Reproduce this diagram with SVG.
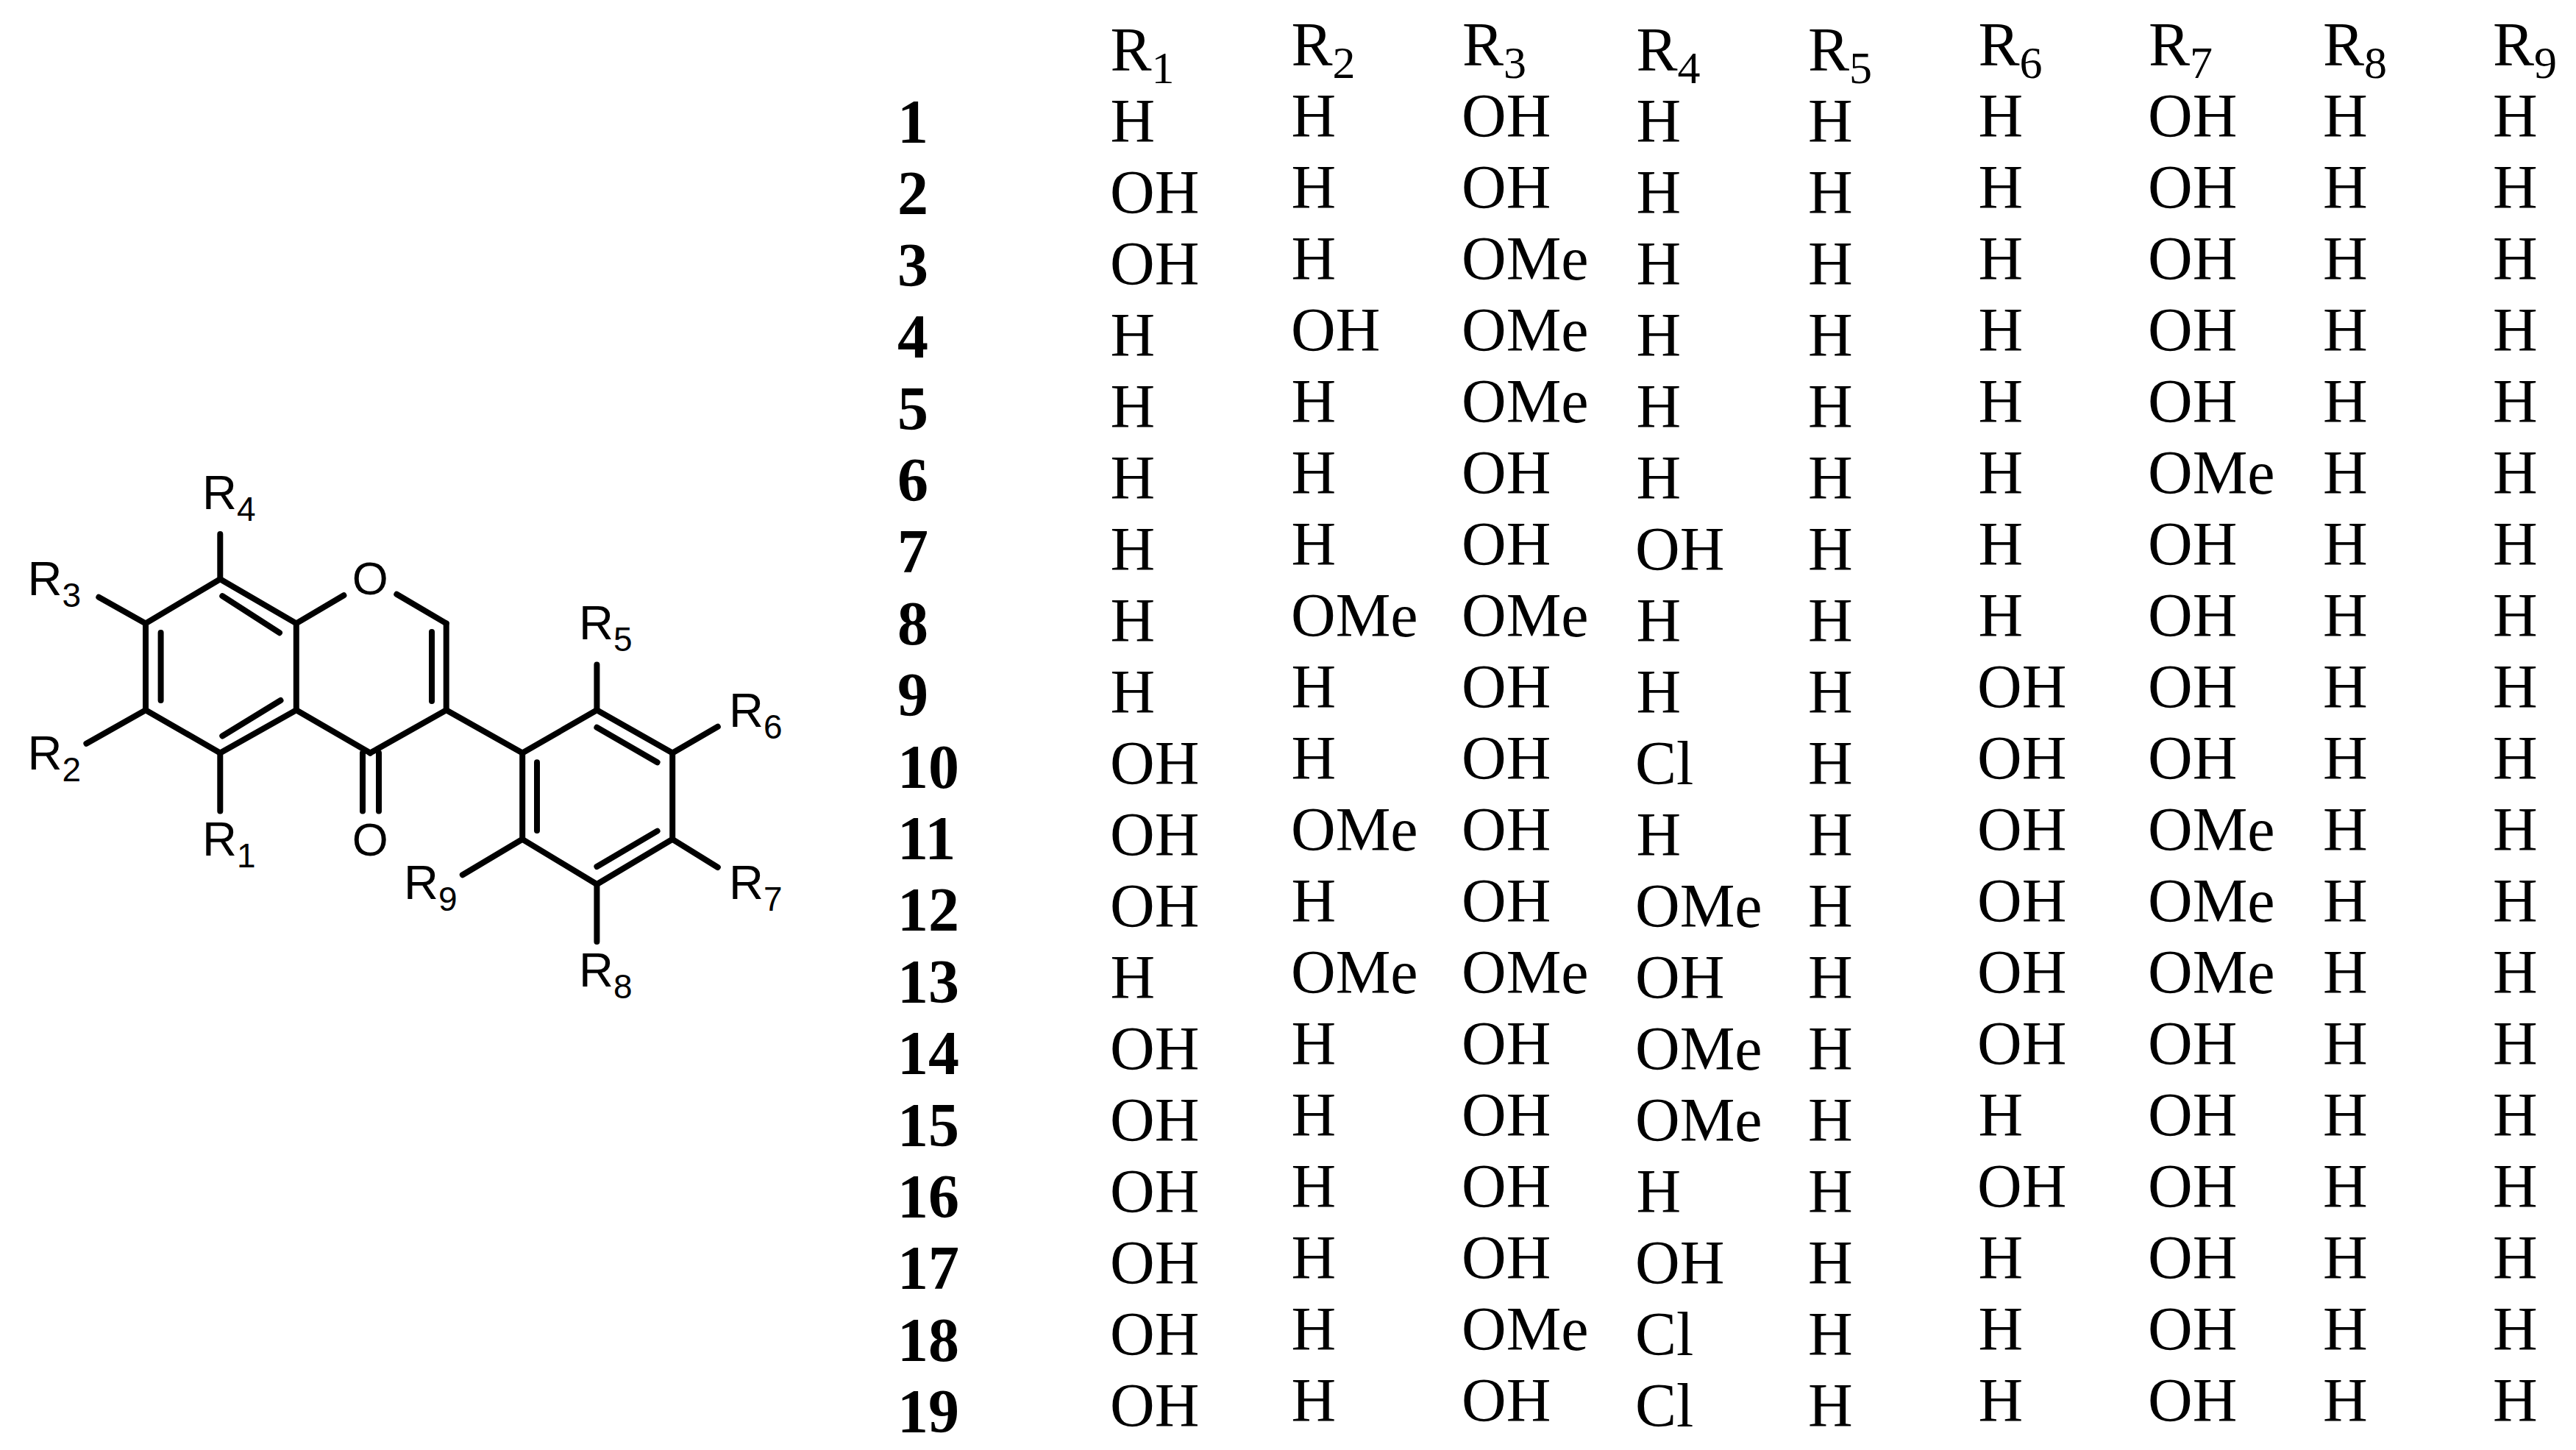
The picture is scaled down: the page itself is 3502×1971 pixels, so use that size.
<svg xmlns="http://www.w3.org/2000/svg" width="3502" height="1971" viewBox="0 0 3502 1971">
<style>
text{fill:#000}
.t{font-family:"Liberation Serif","Times New Roman",serif;font-size:84px}
.n{font-family:"Liberation Serif","Times New Roman",serif;font-size:84px;font-weight:bold}
.s{font-size:62px}
.a{font-family:"Liberation Sans",Arial,sans-serif;font-size:65px}
.o{font-size:63px;text-anchor:middle}
.as{font-size:46px}
#connectors line{stroke:#000;stroke-width:8;stroke-linecap:round}
</style>
<rect width="3502" height="1971" fill="#fff"/>
<g id="connectors">
<line x1="299.3" y1="787.2" x2="198" y2="847.4"/><line x1="299.3" y1="787.2" x2="402.8" y2="847.4"/>
<line x1="198" y1="847.4" x2="198" y2="965.3"/><line x1="198" y1="965.3" x2="299.3" y2="1023.5"/>
<line x1="299.3" y1="1023.5" x2="402.8" y2="965.3"/><line x1="402.8" y1="965.3" x2="402.8" y2="847.4"/>
<line x1="218.6" y1="860" x2="218.6" y2="952"/><line x1="302.3" y1="810.2" x2="380" y2="860.2"/><line x1="302.3" y1="1000.5" x2="381.5" y2="952"/>
<line x1="402.8" y1="847.4" x2="467.4" y2="809.2"/><line x1="539.3" y1="807.7" x2="606.7" y2="847.4"/>
<line x1="606.7" y1="847.4" x2="606.7" y2="965.3"/><line x1="587" y1="859" x2="587" y2="953"/>
<line x1="606.7" y1="965.3" x2="503.3" y2="1023.5"/><line x1="503.3" y1="1023.5" x2="402.8" y2="965.3"/>
<line x1="493" y1="1023.5" x2="493" y2="1102.5"/><line x1="515" y1="1023.5" x2="515" y2="1102.5"/>
<line x1="606.7" y1="965.3" x2="710.2" y2="1023.5"/>
<line x1="710.2" y1="1023.5" x2="811.4" y2="965.3"/><line x1="811.4" y1="965.3" x2="914.2" y2="1023.5"/><line x1="914.2" y1="1023.5" x2="914.2" y2="1140.8"/>
<line x1="914.2" y1="1140.8" x2="811.4" y2="1202"/><line x1="811.4" y1="1202" x2="710.2" y2="1140.8"/><line x1="710.2" y1="1140.8" x2="710.2" y2="1023.5"/>
<line x1="811.4" y1="988.8" x2="893.6" y2="1036.2"/><line x1="730" y1="1036.2" x2="730" y2="1129"/><line x1="893.6" y1="1129.6" x2="811.4" y2="1178"/>
<line x1="299.3" y1="726" x2="299.3" y2="787.2"/><line x1="134.3" y1="811.7" x2="198" y2="847.4"/><line x1="117.4" y1="1010.7" x2="198" y2="965.3"/><line x1="299.3" y1="1102.5" x2="299.3" y2="1023.5"/>
<line x1="811.4" y1="903.6" x2="811.4" y2="965.3"/><line x1="975.8" y1="987.8" x2="914.2" y2="1023.5"/><line x1="975.8" y1="1179" x2="914.2" y2="1140.8"/><line x1="811.4" y1="1280" x2="811.4" y2="1202"/><line x1="628.8" y1="1189.3" x2="710.2" y2="1140.8"/>
</g>
<g id="structure-labels">
<g id="atom-O1"><text class="a o" x="503.3" y="808">O</text></g>
<g id="atom-O2"><text class="a o" x="503.3" y="1162.8">O</text></g>
<g id="label-R1"><text class="a" x="275" y="1162.8">R<tspan class="as" dy="16">1</tspan></text></g>
<g id="label-R2"><text class="a" x="37.5" y="1046.4">R<tspan class="as" dy="16">2</tspan></text></g>
<g id="label-R3"><text class="a" x="37.5" y="809">R<tspan class="as" dy="16">3</tspan></text></g>
<g id="label-R4"><text class="a" x="275" y="692">R<tspan class="as" dy="16">4</tspan></text></g>
<g id="label-R5"><text class="a" x="787" y="869">R<tspan class="as" dy="16">5</tspan></text></g>
<g id="label-R6"><text class="a" x="991" y="987.8">R<tspan class="as" dy="16">6</tspan></text></g>
<g id="label-R7"><text class="a" x="991" y="1222.4">R<tspan class="as" dy="16">7</tspan></text></g>
<g id="label-R8"><text class="a" x="787" y="1340.8">R<tspan class="as" dy="16">8</tspan></text></g>
<g id="label-R9"><text class="a" x="549" y="1222.4">R<tspan class="as" dy="16">9</tspan></text></g>
</g>
<g id="header">
<text class="t" x="1509.5" y="96">R<tspan class="s" dy="17">1</tspan></text>
<text class="t" x="1755.5" y="89">R<tspan class="s" dy="17">2</tspan></text>
<text class="t" x="1988" y="89">R<tspan class="s" dy="17">3</tspan></text>
<text class="t" x="2224.5" y="96">R<tspan class="s" dy="17">4</tspan></text>
<text class="t" x="2458" y="96">R<tspan class="s" dy="17">5</tspan></text>
<text class="t" x="2689.5" y="89">R<tspan class="s" dy="17">6</tspan></text>
<text class="t" x="2921" y="89">R<tspan class="s" dy="17">7</tspan></text>
<text class="t" x="3158" y="89">R<tspan class="s" dy="17">8</tspan></text>
<text class="t" x="3389" y="89">R<tspan class="s" dy="17">9</tspan></text>
</g>
<g id="row-1" transform="translate(0,193)"><text class="n" x="1220" y="1">1</text><text class="t" x="1509.5">H</text><text class="t" x="1755.5" y="-7">H</text><text class="t" x="1987" y="-7">OH</text><text class="t" x="2224.5">H</text><text class="t" x="2458">H</text><text class="t" x="2689.5" y="-7">H</text><text class="t" x="2920" y="-7">OH</text><text class="t" x="3158" y="-7">H</text><text class="t" x="3389" y="-7">H</text></g>
<g id="row-2" transform="translate(0,290)"><text class="n" x="1220" y="1.4">2</text><text class="t" x="1509">OH</text><text class="t" x="1755.5" y="-7">H</text><text class="t" x="1987" y="-7">OH</text><text class="t" x="2224.5">H</text><text class="t" x="2458">H</text><text class="t" x="2689.5" y="-7">H</text><text class="t" x="2920" y="-7">OH</text><text class="t" x="3158" y="-7">H</text><text class="t" x="3389" y="-7">H</text></g>
<g id="row-3" transform="translate(0,387)"><text class="n" x="1220" y="1.8">3</text><text class="t" x="1509">OH</text><text class="t" x="1755.5" y="-7">H</text><text class="t" x="1987" y="-7">OMe</text><text class="t" x="2224.5">H</text><text class="t" x="2458">H</text><text class="t" x="2689.5" y="-7">H</text><text class="t" x="2920" y="-7">OH</text><text class="t" x="3158" y="-7">H</text><text class="t" x="3389" y="-7">H</text></g>
<g id="row-4" transform="translate(0,484)"><text class="n" x="1220" y="2.2">4</text><text class="t" x="1509.5">H</text><text class="t" x="1755" y="-7">OH</text><text class="t" x="1987" y="-7">OMe</text><text class="t" x="2224.5">H</text><text class="t" x="2458">H</text><text class="t" x="2689.5" y="-7">H</text><text class="t" x="2920" y="-7">OH</text><text class="t" x="3158" y="-7">H</text><text class="t" x="3389" y="-7">H</text></g>
<g id="row-5" transform="translate(0,581)"><text class="n" x="1220" y="2.6">5</text><text class="t" x="1509.5">H</text><text class="t" x="1755.5" y="-7">H</text><text class="t" x="1987" y="-7">OMe</text><text class="t" x="2224.5">H</text><text class="t" x="2458">H</text><text class="t" x="2689.5" y="-7">H</text><text class="t" x="2920" y="-7">OH</text><text class="t" x="3158" y="-7">H</text><text class="t" x="3389" y="-7">H</text></g>
<g id="row-6" transform="translate(0,678)"><text class="n" x="1220" y="3">6</text><text class="t" x="1509.5">H</text><text class="t" x="1755.5" y="-7">H</text><text class="t" x="1987" y="-7">OH</text><text class="t" x="2224.5">H</text><text class="t" x="2458">H</text><text class="t" x="2689.5" y="-7">H</text><text class="t" x="2920" y="-7">OMe</text><text class="t" x="3158" y="-7">H</text><text class="t" x="3389" y="-7">H</text></g>
<g id="row-7" transform="translate(0,775)"><text class="n" x="1220" y="3.4">7</text><text class="t" x="1509.5">H</text><text class="t" x="1755.5" y="-7">H</text><text class="t" x="1987" y="-7">OH</text><text class="t" x="2223">OH</text><text class="t" x="2458">H</text><text class="t" x="2689.5" y="-7">H</text><text class="t" x="2920" y="-7">OH</text><text class="t" x="3158" y="-7">H</text><text class="t" x="3389" y="-7">H</text></g>
<g id="row-8" transform="translate(0,872)"><text class="n" x="1220" y="3.8">8</text><text class="t" x="1509.5">H</text><text class="t" x="1755" y="-7">OMe</text><text class="t" x="1987" y="-7">OMe</text><text class="t" x="2224.5">H</text><text class="t" x="2458">H</text><text class="t" x="2689.5" y="-7">H</text><text class="t" x="2920" y="-7">OH</text><text class="t" x="3158" y="-7">H</text><text class="t" x="3389" y="-7">H</text></g>
<g id="row-9" transform="translate(0,969)"><text class="n" x="1220" y="4.2">9</text><text class="t" x="1509.5">H</text><text class="t" x="1755.5" y="-7">H</text><text class="t" x="1987" y="-7">OH</text><text class="t" x="2224.5">H</text><text class="t" x="2458">H</text><text class="t" x="2688" y="-7">OH</text><text class="t" x="2920" y="-7">OH</text><text class="t" x="3158" y="-7">H</text><text class="t" x="3389" y="-7">H</text></g>
<g id="row-10" transform="translate(0,1066)"><text class="n" x="1220" y="4.6">10</text><text class="t" x="1509">OH</text><text class="t" x="1755.5" y="-7">H</text><text class="t" x="1987" y="-7">OH</text><text class="t" x="2223">Cl</text><text class="t" x="2458">H</text><text class="t" x="2688" y="-7">OH</text><text class="t" x="2920" y="-7">OH</text><text class="t" x="3158" y="-7">H</text><text class="t" x="3389" y="-7">H</text></g>
<g id="row-11" transform="translate(0,1163)"><text class="n" x="1220" y="5">11</text><text class="t" x="1509">OH</text><text class="t" x="1755" y="-7">OMe</text><text class="t" x="1987" y="-7">OH</text><text class="t" x="2224.5">H</text><text class="t" x="2458">H</text><text class="t" x="2688" y="-7">OH</text><text class="t" x="2920" y="-7">OMe</text><text class="t" x="3158" y="-7">H</text><text class="t" x="3389" y="-7">H</text></g>
<g id="row-12" transform="translate(0,1260)"><text class="n" x="1220" y="5.4">12</text><text class="t" x="1509">OH</text><text class="t" x="1755.5" y="-7">H</text><text class="t" x="1987" y="-7">OH</text><text class="t" x="2223">OMe</text><text class="t" x="2458">H</text><text class="t" x="2688" y="-7">OH</text><text class="t" x="2920" y="-7">OMe</text><text class="t" x="3158" y="-7">H</text><text class="t" x="3389" y="-7">H</text></g>
<g id="row-13" transform="translate(0,1357)"><text class="n" x="1220" y="5.8">13</text><text class="t" x="1509.5">H</text><text class="t" x="1755" y="-7">OMe</text><text class="t" x="1987" y="-7">OMe</text><text class="t" x="2223">OH</text><text class="t" x="2458">H</text><text class="t" x="2688" y="-7">OH</text><text class="t" x="2920" y="-7">OMe</text><text class="t" x="3158" y="-7">H</text><text class="t" x="3389" y="-7">H</text></g>
<g id="row-14" transform="translate(0,1454)"><text class="n" x="1220" y="6.2">14</text><text class="t" x="1509">OH</text><text class="t" x="1755.5" y="-7">H</text><text class="t" x="1987" y="-7">OH</text><text class="t" x="2223">OMe</text><text class="t" x="2458">H</text><text class="t" x="2688" y="-7">OH</text><text class="t" x="2920" y="-7">OH</text><text class="t" x="3158" y="-7">H</text><text class="t" x="3389" y="-7">H</text></g>
<g id="row-15" transform="translate(0,1551)"><text class="n" x="1220" y="6.6">15</text><text class="t" x="1509">OH</text><text class="t" x="1755.5" y="-7">H</text><text class="t" x="1987" y="-7">OH</text><text class="t" x="2223">OMe</text><text class="t" x="2458">H</text><text class="t" x="2689.5" y="-7">H</text><text class="t" x="2920" y="-7">OH</text><text class="t" x="3158" y="-7">H</text><text class="t" x="3389" y="-7">H</text></g>
<g id="row-16" transform="translate(0,1648)"><text class="n" x="1220" y="7">16</text><text class="t" x="1509">OH</text><text class="t" x="1755.5" y="-7">H</text><text class="t" x="1987" y="-7">OH</text><text class="t" x="2224.5">H</text><text class="t" x="2458">H</text><text class="t" x="2688" y="-7">OH</text><text class="t" x="2920" y="-7">OH</text><text class="t" x="3158" y="-7">H</text><text class="t" x="3389" y="-7">H</text></g>
<g id="row-17" transform="translate(0,1745)"><text class="n" x="1220" y="7.4">17</text><text class="t" x="1509">OH</text><text class="t" x="1755.5" y="-7">H</text><text class="t" x="1987" y="-7">OH</text><text class="t" x="2223">OH</text><text class="t" x="2458">H</text><text class="t" x="2689.5" y="-7">H</text><text class="t" x="2920" y="-7">OH</text><text class="t" x="3158" y="-7">H</text><text class="t" x="3389" y="-7">H</text></g>
<g id="row-18" transform="translate(0,1842)"><text class="n" x="1220" y="7.8">18</text><text class="t" x="1509">OH</text><text class="t" x="1755.5" y="-7">H</text><text class="t" x="1987" y="-7">OMe</text><text class="t" x="2223">Cl</text><text class="t" x="2458">H</text><text class="t" x="2689.5" y="-7">H</text><text class="t" x="2920" y="-7">OH</text><text class="t" x="3158" y="-7">H</text><text class="t" x="3389" y="-7">H</text></g>
<g id="row-19" transform="translate(0,1939)"><text class="n" x="1220" y="8.2">19</text><text class="t" x="1509">OH</text><text class="t" x="1755.5" y="-7">H</text><text class="t" x="1987" y="-7">OH</text><text class="t" x="2223">Cl</text><text class="t" x="2458">H</text><text class="t" x="2689.5" y="-7">H</text><text class="t" x="2920" y="-7">OH</text><text class="t" x="3158" y="-7">H</text><text class="t" x="3389" y="-7">H</text></g>
</svg>
